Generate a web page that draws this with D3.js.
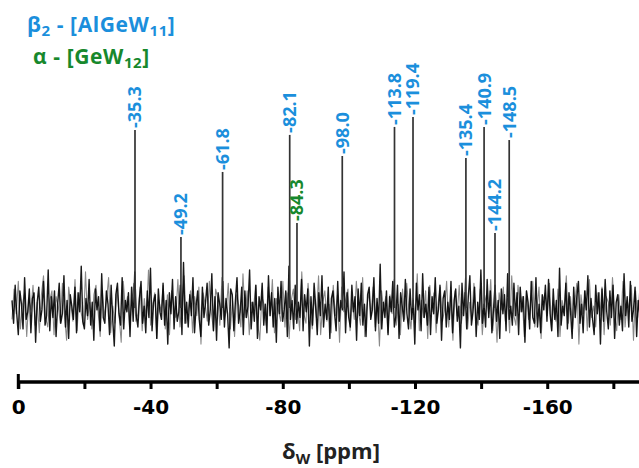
<!DOCTYPE html>
<html><head><meta charset="utf-8">
<script src="https://cdn.jsdelivr.net/npm/d3@7"></script>
<style>body{margin:0;background:#fff}svg{display:block}</style>
</head><body>
<svg id="c" width="639" height="468"></svg>
<script>
// ---- data ----
const peakShifts  = [-35.3, -49.2, -61.8, -82.1, -84.3, -98.0, -113.8, -119.4, -135.4, -140.9, -144.2, -148.5];
const peakHeights = [93.7, 37.4, 71.6, 91.1, 44.7, 80.0, 95.3, 100.5, 78.9, 95.3, 39.5, 88.4];
const peakSpecies = ["beta", "beta", "beta", "beta", "alpha", "beta", "beta", "beta", "beta", "beta", "beta", "beta"];
const tickValues  = [0, -20, -40, -60, -80, -100, -120, -140, -160, -180];
const tickLabels  = [0, -40, -80, -120, -160];
const noiseRange  = [1.9, -188];
const noise = [
 4,-8,12,-3,-14,9,2,-11,16,-6,-2,10,-13,5,8,-18,3,11,-7,-1,
 14,-9,-4,20,-12,6,-5,9,-15,2,13,-8,-3,17,-10,4,-16,7,1,-6,
 11,-13,8,-2,22,-7,-11,5,-4,15,-9,3,-17,10,-1,6,-12,18,-5,-8,
 9,2,-14,12,-6,-20,7,13,-3,-9,16,-11,4,-2,8,-15,11,-7,19,-4,
 -10,5,14,-8,1,-13,9,-5,21,-12,3,7,-16,10,-2,-6,13,-9,4,-19,
 8,-3,15,-11,6,-7,-2,12,-14,24,-8,3,-10,7,-4,16,-13,1,9,-6,
 -15,11,-5,3,13,-9,-1,18,-12,6,-17,8,2,-6,14,-10,5,-3,-21,10,
 7,-12,4,16,-8,-2,11,-14,9,-5,1,20,-11,3,-7,12,-16,6,-1,13,
 -9,2,-13,17,-4,8,-10,5,-18,11,-3,14,-7,-1,9,-15,22,-6,4,-11,
 12,-8,3,-5,15,-12,7,-2,10,-20,6,-9,13,1,-14,8,-4,17,-10,2,
 -6,11,-16,5,9,-3,-12,14,-7,4,-1,19,-13,8,-5,-10,12,-2,6,-17,
 10,-4,13,-9,2,-15,7,11,-6,-1,16,-12,5,-8,23,-11,3,-5,9,-14,
 6,-2,14,-10,-4,12,-16,8,1,-7,15,-3,-11,10,-6,4,-19,13,-1,7,
 -12,18,-5,2,-9,11,-14,6,-3,16,-8,-1,12,-17,5,9,-10,3,-6,14,
 -13,4,10,-7,1,-21,13,-4,8,-11,6,17,-9,-2,11,-15,3,-6,20,-8,
 2,-10,15,-5,9,-13,-1,12,-7,4,-16,10,-3,7,-12,18,-6,1,-9,13,
 -4,8,-14,11,-2,6,-18,9,3,-11,14,-5,-8,16,-10,2,-13,7,-1,12,
 -7,15,-3,-12,10,-6,4,-15,21,-9,1,-4,13,-11,8,-2,-16,11,-5,6,
 14,-8,2,-13,9,-1,17,-10,5,-6,-14,12,-3,8,-19,10,-7,15,-2,-11,
 9,-5,12,-16,3,7,-9,1,-12,18,-4,6,-10,14,-7,-1,11,-15,4,-3
];
const noiseGray = [
 -6,10,-3,14,-11,2,8,-15,5,-1,12,-9,3,-13,7,17,-5,-10,4,9,
 -14,6,1,-8,13,-4,-17,11,2,-7,15,-12,8,-3,-9,19,-6,3,-11,7,
 12,-2,-15,9,-5,4,16,-13,1,-8,10,-4,-18,14,-1,6,-10,3,13,-7,
 -3,11,-12,5,-6,20,-9,2,8,-16,4,-2,12,-11,7,-14,9,1,-5,15,
 -10,3,17,-8,-1,9,-13,6,-4,11,-19,8,2,-7,14,-3,-12,10,5,-9,
 16,-6,-2,13,-11,4,-15,7,1,-10,18,-5,9,-14,3,-1,12,-8,-17,6,
 2,-9,11,-4,15,-13,5,-2,-7,14,-10,8,-16,4,10,-6,1,-12,19,-3,
 -8,13,-1,-11,6,-5,17,-14,3,9,-7,2,-13,12,-4,7,-18,11,-2,5,
 10,-12,4,-6,14,-2,-9,16,-15,1,8,-4,11,-10,3,-20,9,-1,6,-13,
 7,-3,15,-9,2,-14,10,-6,13,-1,-11,5,-8,18,-12,4,-5,9,-16,12,
 -2,8,-13,3,11,-7,-1,14,-10,6,-17,9,-4,12,-8,1,16,-11,3,-6,
 13,-5,-9,10,-14,2,7,-3,15,-12,4,-18,8,-1,11,-7,5,-13,17,-4,
 -9,12,-2,6,-15,9,-6,3,14,-10,-1,11,-16,5,8,-4,13,-12,2,-7,
 10,-15,4,-1,17,-8,6,-11,2,13,-19,7,-3,9,-12,15,-5,1,-10,8,
 -4,11,-14,6,3,-9,16,-2,-12,7,-6,14,-10,4,-1,12,-17,9,-5,10
];
const colors = {beta: "#1b8fdc", alpha: "#17882c"};

// ---- chart ----
const svg = d3.select("#c");
const W = 639, H = 468;
const x = d3.scaleLinear().domain([0, -190]).range([18.3, 646.4]);
const y = d3.scaleLinear().domain([0, 100]).range([308, 118]);
const labelFont = "'Open Sans', 'Liberation Sans', Arial, sans-serif";
const axisFont = "'DejaVu Sans', sans-serif";

svg.append("clipPath").attr("id", "clip")
  .append("rect").attr("x", 0).attr("y", 0).attr("width", W).attr("height", H);

function trace(arr) {
  const pts = arr.map((v, i) => [noiseRange[0] + (noiseRange[1] - noiseRange[0]) * i / (arr.length - 1), v]);
  return d3.line().x(d => x(d[0])).y(d => y(d[1]))(pts);
}
// gray (background) trace
svg.append("path").attr("clip-path", "url(#clip)").attr("d", trace(noiseGray))
  .attr("fill", "none").attr("stroke", "#8a8a8a").attr("stroke-width", 1.1)
  .attr("stroke-linejoin", "round");
// black trace
svg.append("path").attr("clip-path", "url(#clip)").attr("d", trace(noise))
  .attr("fill", "none").attr("stroke", "#000").attr("stroke-width", 1.4)
  .attr("stroke-opacity", 0.9).attr("stroke-linejoin", "round");

// peaks
const peaks = peakShifts.map((p, i) => ({p, h: peakHeights[i], s: peakSpecies[i]}));
svg.append("g").selectAll("line").data(peaks).join("line")
  .attr("x1", d => x(d.p)).attr("x2", d => x(d.p))
  .attr("y1", y(0)).attr("y2", d => y(d.h))
  .attr("stroke", "#333").attr("stroke-width", 1.7);

svg.append("g").selectAll("text").data(peaks).join("text")
  .attr("transform", d => `translate(${x(d.p)},${y(d.h) - 2}) rotate(-90)`)
  .attr("dy", "0.36em")
  .attr("text-anchor", "start")
  .attr("font-family", labelFont).attr("font-weight", 700).attr("font-size", 18)
  .attr("fill", d => colors[d.s])
  .text(d => d.p.toFixed(1));

// axis
const axisY = 382;
const axis = d3.axisBottom(x).tickValues(tickValues).tickSize(7).tickSizeOuter(0)
  .tickFormat(d => tickLabels.includes(d) ? String(d) : "");
const gA = svg.append("g").attr("transform", `translate(0,${axisY})`).call(axis);
gA.select(".domain").remove();
gA.append("line").attr("x1", x(0)).attr("x2", W).attr("y1", 0).attr("y2", 0)
  .attr("stroke", "#000").attr("stroke-width", 3.5);
gA.selectAll(".tick line").attr("stroke", "#000").attr("stroke-width", 3);
gA.selectAll(".tick text").attr("font-family", axisFont).attr("font-weight", 700)
  .attr("font-size", 20).attr("fill", "#000").attr("y", 0).attr("dy", "1.62em");
gA.append("line").attr("x1", x(0)).attr("x2", x(0)).attr("y1", -8).attr("y2", 7)
  .attr("stroke", "#000").attr("stroke-width", 3);

// axis title
const t = svg.append("text").attr("x", 331).attr("y", 459).attr("text-anchor", "middle")
  .attr("font-family", labelFont).attr("font-weight", 700).attr("font-size", 22).attr("fill", "#222");
t.append("tspan").text("δ");
t.append("tspan").attr("font-size", 15).attr("dy", 5).text("W");
t.append("tspan").attr("dy", -5).text(" [ppm]");

// legend
const l1 = svg.append("text").attr("x", 27).attr("y", 32).attr("letter-spacing", 0.6)
  .attr("font-family", labelFont).attr("font-weight", 700).attr("font-size", 21).attr("fill", colors.beta);
l1.append("tspan").text("β");
l1.append("tspan").attr("font-size", 15).attr("dy", 4).text("2");
l1.append("tspan").attr("dy", -4).text(" - [AlGeW");
l1.append("tspan").attr("font-size", 15).attr("dy", 4).text("11");
l1.append("tspan").attr("dy", -4).text("]");

const l2 = svg.append("text").attr("x", 33).attr("y", 64).attr("letter-spacing", 0.6)
  .attr("font-family", labelFont).attr("font-weight", 700).attr("font-size", 21).attr("fill", colors.alpha);
l2.append("tspan").text("α");
l2.append("tspan").text(" - [GeW");
l2.append("tspan").attr("font-size", 15).attr("dy", 4).text("12");
l2.append("tspan").attr("dy", -4).text("]");
</script>
</body></html>
